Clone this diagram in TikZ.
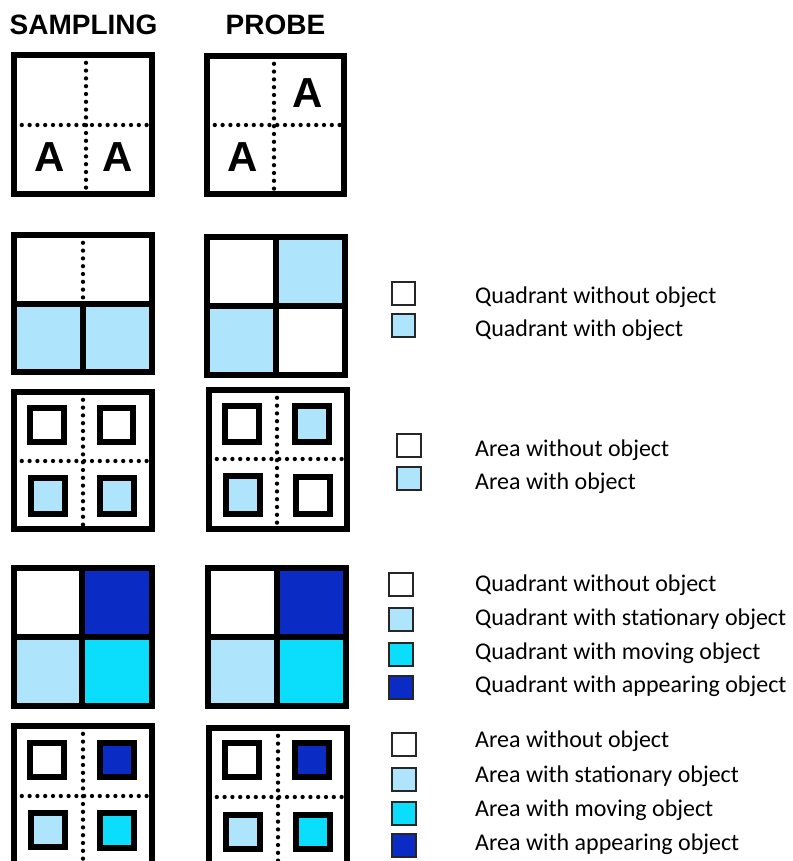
\documentclass[tikz,border=0pt]{standalone}
\usepackage{fontspec}
\setmainfont{Carlito}
\newfontfamily\arialb{Liberation Sans}
\definecolor{lb}{RGB}{174,229,252}
\definecolor{cy}{RGB}{10,222,252}
\definecolor{db}{RGB}{10,43,196}
\begin{document}
\begin{tikzpicture}[x=1pt,y=-1pt,
  frame/.style={line width=6pt},
  dotln/.style={line width=4.3pt,line cap=round,dash pattern=on 0pt off 7.8pt},
  inner/.style={draw=black,line width=6pt},
  legsq/.style={draw=black!85,line width=1.8pt},
  legtxt/.style={anchor=west,inner sep=0pt,font=\fontsize{24}{28}\selectfont},
  ttl/.style={inner sep=0pt,font=\fontsize{28}{32}\selectfont\bfseries\arialb},
  bigA/.style={inner sep=0pt,font=\fontsize{42}{46}\selectfont\bfseries\arialb}]
\useasboundingbox (0,0) rectangle (792,861);
\clip (0,0) rectangle (792,861);
\fill[white] (0,0) rectangle (792,861);
% titles
\node[ttl] (tS) at (83.5,25) {SAMPLING};
\node[ttl] (tP) at (275.5,25) {PROBE};
% row 1
\draw[dotln] (86,55) -- (86,194);
\draw[dotln] (14,125) -- (152,125);
\draw[frame] (14,55) rectangle (152,194);
\node[bigA] (a1) at (50,157) {A};
\node[bigA] (a2) at (118,157) {A};
\draw[dotln] (274,56) -- (274,194);
\draw[dotln] (207,125) -- (344,125);
\draw[frame] (207,56) rectangle (344,194);
\node[bigA] (a3) at (308,93) {A};
\node[bigA] (a4) at (243,157) {A};
% row 2
\fill[lb] (14,304) rectangle (152,372);
\draw[dotln] (83,235) -- (83,304);
\draw[frame] (83,304) -- (83,372);
\draw[frame] (14,304) -- (152,304);
\draw[frame] (14,235) rectangle (152,372);
\fill[lb] (276,237) rectangle (345,306);
\fill[lb] (207,306) rectangle (276,375);
\draw[frame] (276,237) -- (276,375);
\draw[frame] (207,306) -- (345,306);
\draw[frame] (207,237) rectangle (345,375);
% row 3
\draw[dotln] (83,392) -- (83,529);
\draw[dotln] (14,461) -- (152,461);
\draw[frame] (14,392) rectangle (152,529);
\draw[inner,fill=white] (30,408) rectangle (64,442);
\draw[inner,fill=white] (100,408) rectangle (133,442);
\draw[inner,fill=lb] (31,478) rectangle (65,514);
\draw[inner,fill=lb] (100,478) rectangle (134,514);
\draw[dotln] (277,390) -- (277,529);
\draw[dotln] (209,459) -- (347,459);
\draw[frame] (209,390) rectangle (347,529);
\draw[inner,fill=white] (225,406) rectangle (259,442);
\draw[inner,fill=lb] (295,406) rectangle (329,442);
\draw[inner,fill=lb] (226,476) rectangle (260,514);
\draw[inner,fill=white] (296,477) rectangle (330,514);
% row 4
\fill[db] (82,568) rectangle (152,637);
\fill[lb] (14,637) rectangle (82,706);
\fill[cy] (82,637) rectangle (152,706);
\draw[frame] (82,568) -- (82,706);
\draw[frame] (14,637) -- (152,637);
\draw[frame] (14,568) rectangle (152,706);
\fill[db] (277,568) rectangle (346,637);
\fill[lb] (208,637) rectangle (277,706);
\fill[cy] (277,637) rectangle (346,706);
\draw[frame] (277,568) -- (277,706);
\draw[frame] (208,637) -- (346,637);
\draw[frame] (208,568) rectangle (346,706);
% row 5
\draw[dotln] (83,726) -- (83,880);
\draw[dotln] (14,796) -- (152,796);
\draw[frame] (14,726) rectangle (152,880);
\draw[inner,fill=white] (30,743) rectangle (64,777);
\draw[inner,fill=db] (100,743) rectangle (134,777);
\draw[inner,fill=lb] (31,813) rectangle (65,847);
\draw[inner,fill=cy] (100,813) rectangle (134,848);
\draw[dotln] (278,728) -- (278,880);
\draw[dotln] (209,797) -- (347,797);
\draw[frame] (209,728) rectangle (347,880);
\draw[inner,fill=white] (225,743) rectangle (259,777);
\draw[inner,fill=db] (295,743) rectangle (329,777);
\draw[inner,fill=lb] (226,815) rectangle (260,849);
\draw[inner,fill=cy] (296,815) rectangle (330,849);
% legend 1
\draw[legsq,fill=white] (392,282) rectangle (415,305);
\draw[legsq,fill=lb] (392,314) rectangle (415,337);
\node[legtxt] (l1a) at (475,297) {Quadrant without object};
\node[legtxt] (l1b) at (475,330) {Quadrant with object};
% legend 2
\draw[legsq,fill=white] (397,434) rectangle (421,457);
\draw[legsq,fill=lb] (397,467) rectangle (421,490);
\node[legtxt] (l2a) at (475,450) {Area without object};
\node[legtxt] (l2b) at (475,483) {Area with object};
% legend 3
\draw[legsq,fill=white] (389,573) rectangle (413,596);
\draw[legsq,fill=lb] (389,608) rectangle (413,631);
\draw[legsq,fill=cy] (389,643) rectangle (413,666);
\draw[legsq,fill=db] (389,676) rectangle (413,699);
\node[legtxt] (l3a) at (475,585) {Quadrant without object};
\node[legtxt] (l3b) at (475,619) {Quadrant with stationary object};
\node[legtxt] (l3c) at (475,653) {Quadrant with moving object};
\node[legtxt] (l3d) at (475,686) {Quadrant with appearing object};
% legend 4
\draw[legsq,fill=white] (392,733) rectangle (416,756);
\draw[legsq,fill=lb] (392,768) rectangle (416,791);
\draw[legsq,fill=cy] (392,802) rectangle (416,825);
\draw[legsq,fill=db] (392,834) rectangle (416,857);
\node[legtxt] (l4a) at (475,741) {Area without object};
\node[legtxt] (l4b) at (475,776) {Area with stationary object};
\node[legtxt] (l4c) at (475,810) {Area with moving object};
\node[legtxt] (l4d) at (475,844) {Area with appearing object};
\end{tikzpicture}
\end{document}
